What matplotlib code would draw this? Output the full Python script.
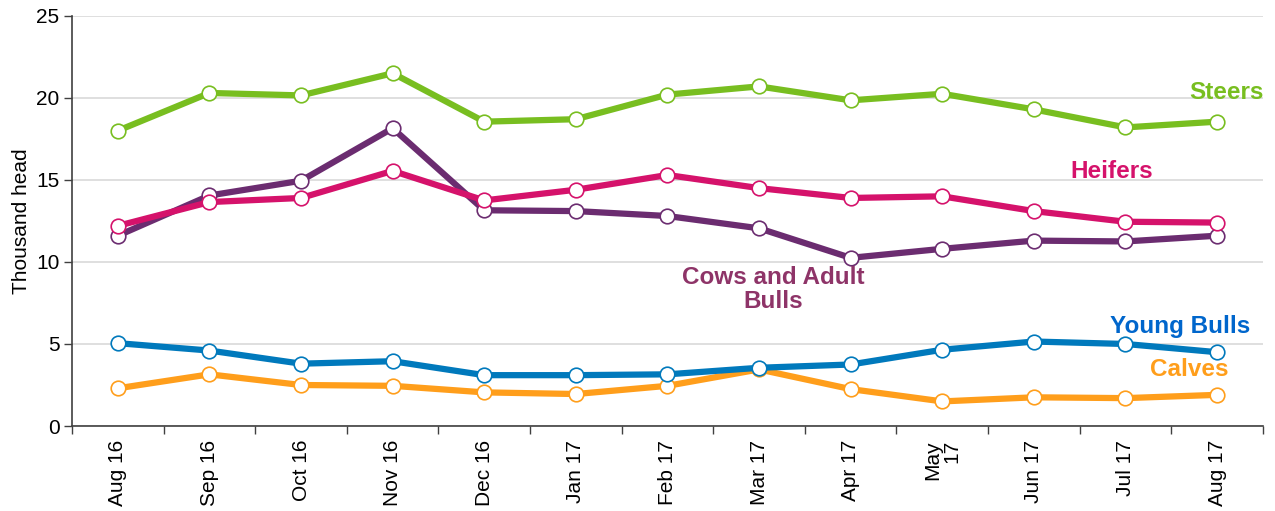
import numpy as np
import matplotlib
matplotlib.use("Agg")
import matplotlib.pyplot as plt
from matplotlib.ticker import FixedLocator

months = ["Aug 16", "Sep 16", "Oct 16", "Nov 16", "Dec 16", "Jan 17", "Feb 17",
          "Mar 17", "Apr 17", "May\n17", "Jun 17", "Jul 17", "Aug 17"]

steers = [18.0, 20.3, 20.15, 21.5, 18.55, 18.7, 20.2, 20.7, 19.85, 20.25, 19.3, 18.2, 18.55]
heifers = [12.2, 13.65, 13.9, 15.55, 13.75, 14.4, 15.3, 14.5, 13.9, 14.0, 13.1, 12.45, 12.4]
cows_bulls = [11.6, 14.05, 14.95, 18.15, 13.15, 13.1, 12.8, 12.05, 10.25, 10.8, 11.3, 11.25, 11.6]
young_bulls = [5.05, 4.6, 3.8, 3.95, 3.1, 3.1, 3.15, 3.55, 3.75, 4.65, 5.15, 5.0, 4.5]
calves = [2.3, 3.15, 2.5, 2.45, 2.05, 1.95, 2.45, 3.45, 2.25, 1.5, 1.75, 1.7, 1.9]

series = [
    (calves, "#FF9E1B"),
    (young_bulls, "#0079BC"),
    (cows_bulls, "#6B2C70"),
    (heifers, "#D5126B"),
    (steers, "#78BE20"),
]

plt.rcParams["font.family"] = ["Liberation Sans", "DejaVu Sans"]

fig = plt.figure(figsize=(12.75, 5.11), dpi=100)
ax = fig.add_axes([0.0565, 0.1663, 0.934, 0.8027])

x = np.arange(len(months))
for vals, col in series:
    ax.plot(x, vals, color=col, lw=4.5, marker="o", ms=10.5,
            markerfacecolor="white", markeredgecolor=col, markeredgewidth=1.2,
            solid_joinstyle="miter", zorder=3)

ax.set_xlim(-0.5, len(months) - 0.5)
ax.set_ylim(0, 25)
ax.set_yticks([0, 5, 10, 15, 20, 25])
ax.yaxis.grid(True, color="#D9D9D9", lw=1.2)
ax.set_axisbelow(True)

ax.set_xticks(x)
ax.set_xticklabels(months, rotation=90, fontsize=15, va="top", ha="center",
                   linespacing=1.0, multialignment="right")
ax.xaxis.set_minor_locator(FixedLocator(np.arange(-0.5, len(months), 1)))
ax.tick_params(axis="x", which="major", length=0, pad=10)
ax.tick_params(axis="x", which="minor", length=6, width=1, color="#404040")
ax.tick_params(axis="y", length=6, width=1, color="#404040", labelsize=15, pad=3)

for s in ["top", "right"]:
    ax.spines[s].set_visible(False)
for s in ["left", "bottom"]:
    ax.spines[s].set_color("#404040")
    ax.spines[s].set_linewidth(1.2)

ax.set_ylabel("Thousand head", fontsize=15, labelpad=4)

lab = dict(fontsize=17.5, fontweight="bold", family=["Liberation Sans Narrow", "Liberation Sans"],
           ha="center", va="center")
ax.text(12.1, 20.3, "Steers", color="#78BE20", **lab)
ax.text(10.85, 15.5, "Heifers", color="#D5126B", **lab)
ax.text(7.15, 8.3, "Cows and Adult\nBulls", color="#8E3468", linespacing=1.05, **lab)
ax.text(11.6, 6.05, "Young Bulls", color="#0066CC", **lab)
ax.text(11.7, 3.45, "Calves", color="#FF9E1B", **lab)

fig.savefig("out.png", dpi=100)
